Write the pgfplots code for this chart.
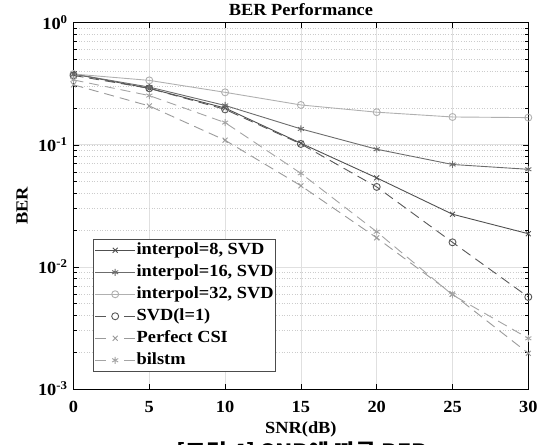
\documentclass[border=0pt]{standalone}
\usepackage{fontspec}
\setmainfont{Liberation Serif}[FakeStretch=1.08]
\newfontfamily\krfont{Noto Sans CJK KR}[FakeStretch=1.08]
\usepackage{pgfplots}
\pgfplotsset{compat=1.18}
\definecolor{cA}{HTML}{505050}
\definecolor{cB}{HTML}{6C6C6C}
\definecolor{cC}{HTML}{B0B0B0}
\definecolor{cD}{HTML}{585858}
\definecolor{cE}{HTML}{9A9A9A}
\definecolor{cF}{HTML}{A4A4A4}
\pgfplotsset{
  dashlegend/.style={legend image code/.code={
    \draw[##1, solid, line width=0.9pt] (0pt,0pt) -- (11pt,0pt);
    \draw[##1, solid, line width=0.9pt] (29pt,0pt) -- (40pt,0pt);
    \draw[##1] plot[only marks] coordinates {(20pt,0pt)};
  }}
}
\begin{document}
\fontsize{17pt}{20pt}\selectfont\bfseries
\begin{tikzpicture}
\begin{axis}[
  scale only axis,
  width=454.8pt, height=366.3pt,
  ymode=log,
  xmin=0, xmax=30, ymin=1e-3, ymax=1,
  xtick={0,5,10,15,20,25,30},
  xticklabels={0,5,10,15,20,25,30},
  ytick={1e-3,1e-2,1e-1,1},
  yticklabels={10\textsuperscript{-3},10\textsuperscript{-2},10\textsuperscript{-1},10\textsuperscript{0}},
  tick align=inside,
  major tick length=5pt, minor tick length=3pt,
  every tick/.style={black, line width=0.6pt},
  axis line style={black, line width=0.9pt},
  xmajorgrids, ymajorgrids, yminorgrids,
  major grid style={color=black!12, line width=0.8pt},
  minor grid style={color=black!20, line width=0.6pt, dotted},
  xticklabel style={font=\fontsize{17pt}{20pt}\selectfont\bfseries, yshift=-6pt},
  yticklabel style={font=\fontsize{17pt}{20pt}\selectfont\bfseries},
  xlabel={SNR(dB)},
  xlabel style={at={(rel axis cs:0.5,0)}, anchor=north, inner sep=0pt, yshift=-32.5pt, font=\fontsize{17pt}{20pt}\selectfont\bfseries},
  ylabel={BER},
  ylabel style={at={(rel axis cs:0,0.5)}, anchor=center, inner sep=0pt, yshift=51.5pt, font=\fontsize{17pt}{20pt}\selectfont\bfseries},
  title={BER Performance},
  title style={at={(rel axis cs:0.5,1)}, anchor=base, inner sep=0pt, yshift=1pt, font=\fontsize{17pt}{20pt}\selectfont\bfseries},
  legend cell align=left,
  legend style={at={(rel axis cs:0.0435,0.0472)}, anchor=south west,
    draw=black!70, line width=0.9pt, fill=white,
    font=\fontsize{17pt}{20pt}\selectfont\bfseries,
    row sep=4pt, inner xsep=1pt, inner ysep=2pt,
    nodes={inner sep=1pt, text height=12pt, text depth=4pt}},
  legend image code/.code={
    \draw[#1, line width=0.9pt] (0pt,0pt) -- (40pt,0pt);
    \draw[#1] plot[only marks] coordinates {(20pt,0pt)};
  },
]
\addplot[cA, line width=0.9pt, mark=x, mark size=3.5pt, mark options={solid}] coordinates {
 (0,0.38) (5,0.29) (10,0.20) (15,0.103) (20,0.0536) (25,0.027) (30,0.0187)};
\addlegendentry{interpol=8, SVD}
\addplot[cB, line width=0.9pt, mark=asterisk, mark size=3.5pt, mark options={solid}] coordinates {
 (0,0.38) (5,0.297) (10,0.21) (15,0.135) (20,0.092) (25,0.069) (30,0.063)};
\addlegendentry{interpol=16, SVD}
\addplot[cC, line width=0.9pt, mark=o, mark size=3.5pt, mark options={solid}] coordinates {
 (0,0.38) (5,0.337) (10,0.269) (15,0.212) (20,0.185) (25,0.169) (30,0.167)};
\addlegendentry{interpol=32, SVD}
\addplot[cD, line width=0.9pt, dash pattern=on 10pt off 6pt, mark=o, mark size=3.5pt, mark options={solid}, dashlegend] coordinates {
 (0,0.37) (5,0.29) (10,0.195) (15,0.1016) (20,0.0452) (25,0.0159) (30,0.00567)};
\addlegendentry{SVD(l=1)}
\addplot[cE, line width=0.9pt, dash pattern=on 10pt off 6pt, mark=x, mark size=3.5pt, mark options={solid}, dashlegend] coordinates {
 (0,0.31) (5,0.208) (10,0.109) (15,0.0462) (20,0.0173) (25,0.006) (30,0.00196)};
\addlegendentry{Perfect CSI}
\addplot[cF, line width=0.9pt, dash pattern=on 10pt off 6pt, mark=asterisk, mark size=3.5pt, mark options={solid}, dashlegend] coordinates {
 (0,0.34) (5,0.253) (10,0.152) (15,0.0584) (20,0.0194) (25,0.0059) (30,0.0026)};
\addlegendentry{bilstm}
\end{axis}
\node[anchor=north, inner sep=0pt, font=\fontsize{21pt}{24pt}\selectfont] at (228.5pt,-53pt) {\krfont [그림 4] SNR에 따른 BER};
\pgfresetboundingbox
\path[use as bounding box] (-73.5pt,-55pt) rectangle (471.5pt,389pt);
\end{tikzpicture}
\end{document}
